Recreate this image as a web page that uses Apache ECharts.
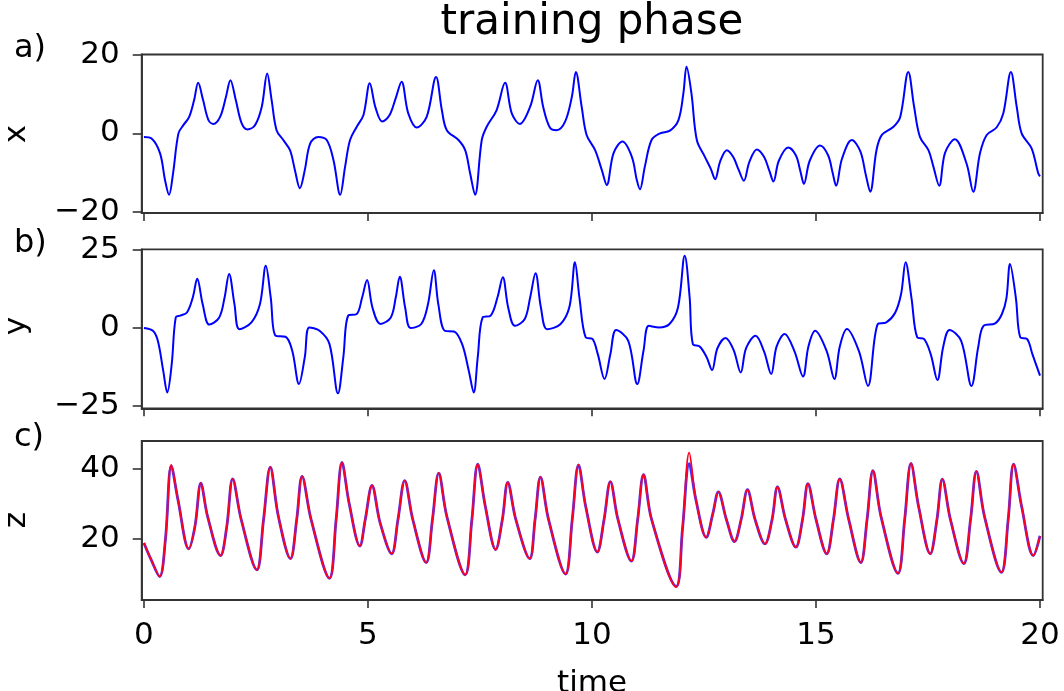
<!DOCTYPE html>
<html>
<head>
<meta charset="utf-8">
<script src="https://cdn.jsdelivr.net/npm/echarts@6/dist/echarts.min.js"></script>
<style>
  html, body { margin: 0; padding: 0; background: #fff; }
  #chart { width: 1064px; height: 691px; }
</style>
</head>
<body>
<div id="chart"></div>
<script>
// Lorenz system, training window: x(t), y(t) and z(t)
const tX = [0, 0.17, 0.36, 0.47, 0.56, 0.65, 0.77, 0.88, 1.01, 1.12, 1.21, 1.32, 1.44, 1.55, 1.70, 1.83, 1.93, 2.05, 2.18, 2.31, 2.48, 2.63, 2.75, 2.85, 2.96, 3.11, 3.26, 3.37, 3.48, 3.59, 3.71, 3.89, 4.08, 4.23, 4.38, 4.49, 4.60, 4.75, 4.90, 5.04, 5.17, 5.32, 5.48, 5.62, 5.75, 5.90, 6.09, 6.31, 6.52, 6.65, 6.76, 7.02, 7.17, 7.28, 7.39, 7.54, 7.65, 7.87, 8.06, 8.21, 8.39, 8.62, 8.79, 8.91, 9.06, 9.21, 9.40, 9.55, 9.64, 9.77, 9.88, 10.07, 10.22, 10.33, 10.48, 10.68, 10.89, 11.00, 11.07, 11.18, 11.33, 11.52, 11.74, 11.93, 12.04, 12.11, 12.22, 12.34, 12.52, 12.65, 12.75, 12.86, 13.01, 13.15, 13.27, 13.39, 13.51, 13.68, 13.84, 13.96, 14.05, 14.17, 14.38, 14.55, 14.65, 14.73, 14.86, 15.09, 15.27, 15.37, 15.45, 15.58, 15.80, 15.99, 16.11, 16.21, 16.35, 16.47, 16.73, 16.88, 17.06, 17.19, 17.32, 17.51, 17.62, 17.75, 17.88, 18.10, 18.36, 18.51, 18.66, 18.81, 19.03, 19.18, 19.35, 19.48, 19.59, 19.81, 19.96, 20.0];
const xVals = [-0.9, -1.3, -5.1, -11.9, -15.7, -10.2, 0.0, 2.1, 4.2, 8.5, 12.9, 8.5, 3.4, 2.4, 4.2, 9.3, 13.6, 8.5, 2.6, 1.0, 2.1, 6.8, 15.3, 8.5, 0.8, -1.7, -4.3, -9.4, -14.0, -9.4, -2.6, -0.9, -1.7, -6.8, -15.7, -8.5, -1.7, 1.7, 4.7, 12.8, 6.5, 3.0, 4.6, 9.0, 13.2, 5.1, 1.5, 4.2, 14.4, 5.9, 0.8, -1.7, -4.3, -10.2, -15.7, -1.7, 1.7, 5.9, 12.9, 5.1, 2.4, 6.8, 13.6, 6.8, 1.5, 0.8, 3.0, 9.3, 15.7, 6.8, -0.4, -4.3, -9.4, -13.2, -5.1, -2.1, -6.0, -11.9, -14.3, -8.5, -1.7, 0.0, 0.7, 3.4, 10.2, 17.0, 10.2, -1.7, -6.0, -9.0, -11.7, -7.2, -4.3, -6.0, -9.2, -12.1, -7.4, -4.1, -6.0, -9.6, -12.3, -7.0, -3.6, -5.6, -9.6, -12.9, -7.0, -3.1, -5.6, -10.0, -13.4, -6.5, -1.7, -4.6, -10.5, -14.9, -4.3, -0.4, 1.7, 4.2, 15.7, 6.8, -0.9, -4.3, -8.5, -13.4, -5.0, -1.5, -7.7, -14.9, -5.1, -0.4, 1.5, 5.1, 15.7, 6.8, 0.0, -3.8, -10.2, -11.0];

const tY = [0, 0.20, 0.31, 0.43, 0.52, 0.62, 0.71, 0.81, 0.96, 1.09, 1.19, 1.31, 1.46, 1.68, 1.80, 1.90, 2.02, 2.13, 2.40, 2.59, 2.72, 2.83, 2.94, 3.16, 3.31, 3.46, 3.59, 3.69, 3.92, 4.14, 4.33, 4.45, 4.56, 4.75, 4.87, 4.98, 5.10, 5.28, 5.51, 5.62, 5.71, 5.83, 5.95, 6.19, 6.34, 6.47, 6.57, 6.72, 6.92, 7.10, 7.25, 7.36, 7.45, 7.56, 7.74, 7.89, 8.01, 8.13, 8.28, 8.50, 8.62, 8.74, 8.86, 9.00, 9.30, 9.50, 9.62, 9.72, 9.86, 10.01, 10.13, 10.28, 10.41, 10.54, 10.81, 11.01, 11.15, 11.27, 11.50, 11.73, 11.92, 12.07, 12.18, 12.25, 12.41, 12.56, 12.68, 12.80, 12.98, 13.16, 13.32, 13.44, 13.65, 13.84, 14.00, 14.12, 14.30, 14.52, 14.71, 14.83, 14.98, 15.24, 15.41, 15.53, 15.69, 15.96, 16.16, 16.38, 16.57, 16.77, 16.90, 17.00, 17.13, 17.26, 17.41, 17.56, 17.71, 17.84, 17.98, 18.24, 18.47, 18.62, 18.74, 19.00, 19.15, 19.25, 19.33, 19.46, 19.56, 19.71, 19.83, 20.0];
const yVals = [0.0, -0.9, -4.1, -13.7, -20.7, -11.6, 3.4, 4.0, 5.0, 9.8, 15.8, 7.7, 1.1, 3.4, 9.8, 17.4, 7.7, -0.4, 1.8, 7.7, 20.0, 9.8, -2.5, -2.8, -7.3, -18.0, -9.4, 0.2, -0.9, -5.1, -21.0, -9.4, 4.0, 4.5, 9.8, 15.4, 6.6, 1.3, 3.4, 9.8, 16.5, 6.6, 0.0, 1.3, 7.7, 18.6, 7.7, -0.9, -1.1, -5.1, -13.7, -20.7, -9.4, 3.4, 4.0, 9.8, 16.3, 6.6, 0.7, 2.9, 9.8, 17.6, 6.6, -0.4, 1.3, 7.0, 21.1, 9.8, -3.0, -3.5, -8.4, -16.4, -8.4, -0.6, -4.1, -18.0, -7.3, 0.7, 0.2, 1.3, 6.6, 23.2, 9.8, -5.1, -6.0, -9.4, -13.5, -6.5, -3.2, -7.0, -14.3, -6.5, -2.5, -7.5, -14.8, -6.0, -1.9, -7.5, -15.6, -6.0, -0.9, -7.5, -16.4, -6.0, -0.3, -7.5, -18.6, 1.3, 1.8, 5.0, 11.0, 21.1, 9.8, -3.0, -3.5, -8.4, -16.7, -6.0, -0.6, -4.1, -18.6, -6.2, 0.7, 1.5, 4.5, 9.5, 20.6, 9.8, -3.0, -3.5, -8.4, -15.3];

const tZ = [0, 0.15, 0.35, 0.48, 0.61, 0.76, 1.00, 1.14, 1.27, 1.42, 1.71, 1.85, 1.98, 2.17, 2.52, 2.67, 2.82, 3.00, 3.27, 3.41, 3.53, 3.73, 4.14, 4.29, 4.42, 4.58, 4.82, 4.94, 5.09, 5.27, 5.53, 5.67, 5.82, 6.00, 6.30, 6.44, 6.58, 6.76, 7.17, 7.32, 7.45, 7.62, 7.85, 8.00, 8.12, 8.30, 8.61, 8.73, 8.85, 9.03, 9.41, 9.56, 9.70, 9.86, 10.12, 10.27, 10.41, 10.58, 10.88, 11.02, 11.15, 11.33, 11.88, 12.02, 12.17, 12.32, 12.55, 12.70, 12.82, 13.00, 13.18, 13.33, 13.47, 13.64, 13.86, 14.02, 14.14, 14.32, 14.55, 14.70, 14.82, 15.00, 15.24, 15.39, 15.53, 15.73, 16.00, 16.14, 16.27, 16.45, 16.83, 16.98, 17.12, 17.29, 17.55, 17.70, 17.82, 18.00, 18.30, 18.45, 18.58, 18.76, 19.14, 19.29, 19.41, 19.59, 19.85, 20.0];
const zTrue = [18.9, 14.4, 9.3, 20.0, 40.9, 31.2, 17.2, 23.7, 36.0, 26.5, 15.3, 23.7, 37.2, 25.6, 11.2, 25.6, 40.5, 26.5, 14.4, 25.6, 37.9, 25.6, 8.8, 25.6, 41.9, 30.2, 18.0, 25.6, 35.3, 24.7, 15.8, 25.6, 36.7, 25.6, 13.3, 25.6, 38.8, 26.5, 9.8, 25.6, 41.4, 29.3, 17.0, 25.6, 36.2, 25.6, 14.4, 25.6, 37.7, 25.6, 10.0, 25.6, 41.2, 29.3, 16.3, 25.6, 36.4, 25.6, 13.7, 25.6, 38.4, 25.6, 6.5, 22.8, 41.5, 31.2, 20.5, 27.4, 33.5, 25.6, 19.3, 25.6, 34.1, 25.6, 18.6, 25.6, 34.9, 25.6, 17.7, 25.6, 35.8, 25.6, 15.8, 25.6, 37.2, 25.6, 13.3, 25.6, 39.5, 26.5, 10.2, 25.6, 41.6, 29.3, 15.8, 25.6, 37.1, 25.6, 13.0, 25.6, 39.3, 26.5, 10.5, 25.6, 41.4, 29.3, 15.3, 20.9];
const zPred = [18.9, 14.4, 9.3, 20.0, 41.2, 31.2, 17.2, 23.7, 36.0, 26.5, 15.3, 23.7, 37.2, 25.6, 11.2, 25.6, 40.5, 26.5, 14.4, 25.6, 37.9, 25.6, 8.8, 25.6, 41.9, 30.2, 18.0, 25.6, 35.3, 24.7, 15.8, 25.6, 36.7, 25.6, 13.3, 25.6, 38.8, 26.5, 9.8, 25.6, 41.4, 29.3, 17.0, 25.6, 36.2, 25.6, 14.4, 25.6, 37.7, 25.6, 10.0, 25.6, 41.2, 29.3, 16.3, 25.6, 36.4, 25.6, 13.7, 25.6, 38.4, 25.6, 6.3, 22.8, 44.7, 31.2, 20.5, 27.4, 33.5, 25.6, 19.3, 25.6, 34.1, 25.6, 18.6, 25.6, 34.9, 25.6, 17.7, 25.6, 35.8, 25.6, 15.8, 25.6, 37.2, 25.6, 13.3, 25.6, 39.5, 26.5, 10.2, 25.6, 41.6, 29.3, 15.8, 25.6, 37.1, 25.6, 13.0, 25.6, 39.3, 26.5, 10.5, 25.6, 41.4, 29.3, 15.3, 20.9];

const timeTicks = [0, 5, 10, 15, 20];
const xTicks = [-20, 0, 20];
const yTicks = [-25, 0, 25];
const zTicks = [20, 40];

const FONT = 'DejaVu Sans';
const INK = '#333';
const LABEL_PX = 31;

function pairs(ts, vs) { return ts.map((t, i) => [t, vs[i]]); }
function fmt(v) { return v < 0 ? '\u2212' + Math.abs(v) : String(v); }

const gridBoxes = [
  { top: 54.5, height: 158.5 },
  { top: 249.3, height: 159 },
  { top: 441, height: 159 }
];

const chart = echarts.init(document.getElementById('chart'), null, { renderer: 'canvas' });

const option = {
  animation: false,
  backgroundColor: '#fff',
  grid: gridBoxes.map(g => ({
    left: 141.7, width: 901, top: g.top, height: g.height,
    show: true, borderColor: INK, borderWidth: 1.8, backgroundColor: 'transparent'
  })),
  xAxis: [0, 1, 2].map(i => ({
    type: 'value', gridIndex: i, min: -0.05, max: 20.06,
    axisLine: { show: true, onZero: false, lineStyle: { color: INK, width: 1.8 } },
    axisTick: { show: true, length: 8, customValues: timeTicks, lineStyle: { color: INK, width: 1.6 } },
    axisLabel: {
      show: i === 2, customValues: timeTicks, fontFamily: FONT, fontSize: LABEL_PX,
      color: '#000', margin: 20
    },
    splitLine: { show: false }
  })),
  yAxis: [
    { min: -20.35, max: 20.15, ticks: xTicks },
    { min: -25.8, max: 25.3, ticks: yTicks },
    { min: 2.6, max: 48, ticks: zTicks }
  ].map((a, i) => ({
    type: 'value', gridIndex: i, min: a.min, max: a.max,
    axisLine: { show: true, onZero: false, lineStyle: { color: INK, width: 1.8 } },
    axisTick: { show: true, length: 9, customValues: a.ticks, lineStyle: { color: INK, width: 1.6 } },
    axisLabel: {
      customValues: a.ticks, formatter: fmt, fontFamily: FONT, fontSize: LABEL_PX,
      color: '#000', margin: 22
    },
    splitLine: { show: false }
  })),
  series: [
    {
      type: 'line', xAxisIndex: 0, yAxisIndex: 0, data: pairs(tX, xVals),
      showSymbol: false, smooth: 0.35, lineStyle: { color: '#0000ff', width: 2 }
    },
    {
      type: 'line', xAxisIndex: 1, yAxisIndex: 1, data: pairs(tY, yVals),
      showSymbol: false, smooth: 0.35, lineStyle: { color: '#0000ff', width: 2 }
    },
    {
      type: 'line', xAxisIndex: 2, yAxisIndex: 2, data: pairs(tZ, zTrue),
      showSymbol: false, smooth: 0.35, lineStyle: { color: '#4433ff', width: 2.8 }
    },
    {
      type: 'line', xAxisIndex: 2, yAxisIndex: 2, data: pairs(tZ, zPred),
      showSymbol: false, smooth: 0.35, lineStyle: { color: '#ff0022', width: 1.8 }
    }
  ],
  graphic: [
    { type: 'text', x: 592, y: 23, style: { text: 'training phase', font: '42px "DejaVu Sans"', fill: '#000', align: 'center', verticalAlign: 'middle' } },
    { type: 'text', x: 14, y: 49, style: { text: 'a)', font: '32px "DejaVu Sans"', fill: '#000', verticalAlign: 'middle' } },
    { type: 'text', x: 14, y: 244, style: { text: 'b)', font: '32px "DejaVu Sans"', fill: '#000', verticalAlign: 'middle' } },
    { type: 'text', x: 14, y: 438, style: { text: 'c)', font: '32px "DejaVu Sans"', fill: '#000', verticalAlign: 'middle' } },
    { type: 'text', x: 17, y: 134, rotation: Math.PI / 2, style: { text: 'x', font: '31px "DejaVu Sans"', fill: '#000', align: 'center', verticalAlign: 'middle' } },
    { type: 'text', x: 17, y: 326, rotation: Math.PI / 2, style: { text: 'y', font: '31px "DejaVu Sans"', fill: '#000', align: 'center', verticalAlign: 'middle' } },
    { type: 'text', x: 17, y: 520, rotation: Math.PI / 2, style: { text: 'z', font: '31px "DejaVu Sans"', fill: '#000', align: 'center', verticalAlign: 'middle' } },
    { type: 'text', x: 592, y: 684, style: { text: 'time', font: '31px "DejaVu Sans"', fill: '#000', align: 'center', verticalAlign: 'middle' } }
  ]
};

chart.setOption(option);
</script>
</body>
</html>
